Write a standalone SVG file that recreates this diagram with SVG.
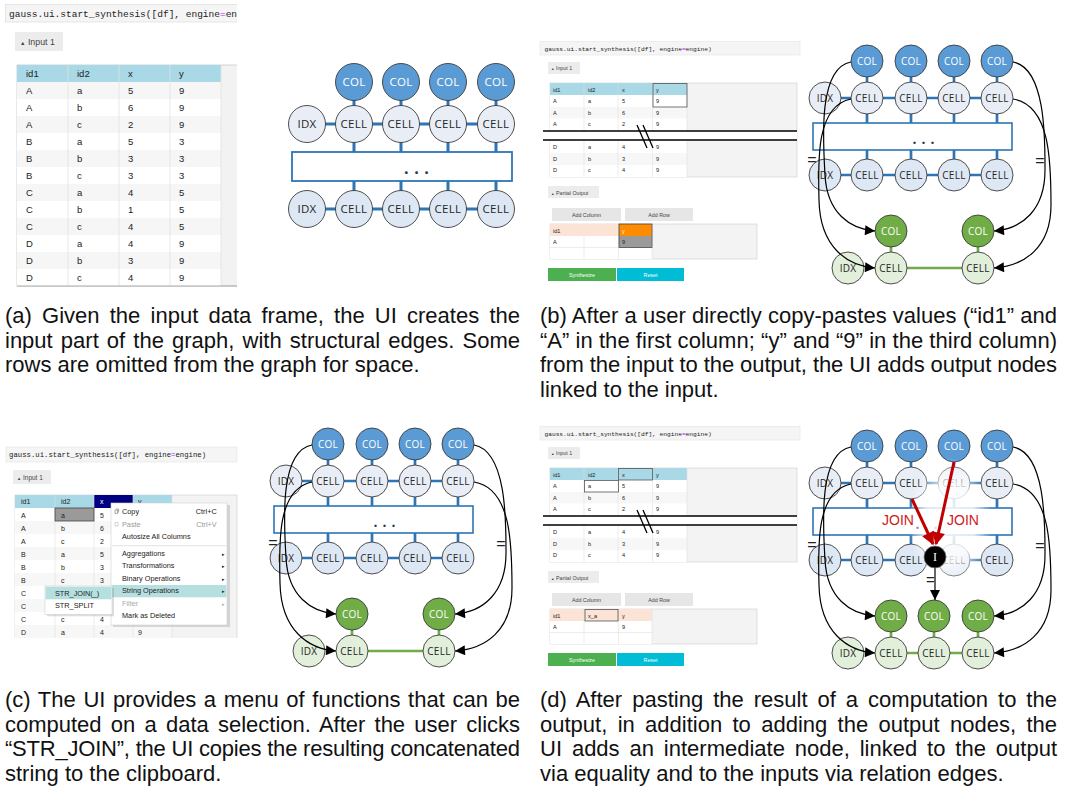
<svg xmlns="http://www.w3.org/2000/svg" width="1067" height="804" viewBox="0 0 1067 804">
<defs>
<style>
.cap{font-family:"Liberation Sans",Arial,sans-serif;font-size:22px;fill:#111}
.ui text{font-family:"Liberation Sans",Arial,sans-serif}
.ui text.code{font-family:"Liberation Mono","Courier New",monospace}
.nt{font-family:"Open Sans","Noto Sans",sans-serif;font-size:10px;fill:#262626;text-anchor:middle;letter-spacing:0.3px}
.na{font-size:11.5px}
.nw{fill:#fff}
.col{fill:#5b9bd5;stroke:#3b3b3b;stroke-width:0.9}
.cel{fill:#e9eef6;stroke:#3b3b3b;stroke-width:0.9}
.cel2{fill:#dde8f4;stroke:#3b3b3b;stroke-width:0.9}
.gcol{fill:#70ad47;stroke:#3b3b3b;stroke-width:0.9}
.gcel{fill:#e2efda;stroke:#3b3b3b;stroke-width:0.9}
.bl{stroke:#2e75b6;stroke-width:2.7;fill:none}
.gl{stroke:#70ad47;stroke-width:2.7;fill:none}
.box{fill:#fff;stroke:#2e75b6;stroke-width:1.6}
.dots{font-family:"Open Sans",sans-serif;font-weight:bold;fill:#2a3550}
.arc{fill:none;stroke:#000;stroke-width:1.2;marker-end:url(#ah)}
.eq{font-family:"Liberation Sans",Arial,sans-serif;fill:#222;text-anchor:middle}
.red{stroke:#c00000;stroke-width:3;fill:none;marker-end:url(#ahr)}
.join{font-family:"Liberation Sans",Arial,sans-serif;font-size:14px;fill:#d0201a;text-anchor:middle}
</style>
<marker id="ah" viewBox="0 0 10 10" refX="10" refY="5" markerWidth="12" markerHeight="10" markerUnits="userSpaceOnUse" orient="auto"><path d="M0,0L10,5L0,10z" fill="#000"/></marker>
<marker id="ahr" viewBox="0 0 10 10" refX="9" refY="5" markerWidth="15" markerHeight="13" markerUnits="userSpaceOnUse" orient="auto"><path d="M0,0L10,5L0,10z" fill="#c00000"/></marker>
<radialGradient id="fade"><stop offset="0" stop-color="#fff" stop-opacity="0.9"/><stop offset="0.6" stop-color="#fff" stop-opacity="0.8"/><stop offset="1" stop-color="#fff" stop-opacity="0"/></radialGradient>
<clipPath id="clipA"><rect x="0" y="0" width="237" height="300"/></clipPath>
<clipPath id="clipC"><rect x="0" y="440" width="240" height="198"/></clipPath>
</defs>
<rect width="1067" height="804" fill="#fff"/>

<!-- ================= Panel (a) UI ================= -->
<g id="a-ui" class="ui" clip-path="url(#clipA)" fill="#222">
 <rect x="5.5" y="4.5" width="240" height="17.5" fill="#f5f5f5" stroke="#e0e0e0" stroke-width="0.8"/>
 <text class="code" x="9" y="16.5" font-size="9.5">gauss.ui.start_synthesis([df], engine<tspan fill="#aa22ff">=</tspan>en</text>
 <rect x="15" y="32" width="48" height="19" fill="#ececec"/>
 <text x="20" y="44.5" font-size="8.8" fill="#444"><tspan font-size="5.5">▲</tspan> Input 1</text>
 <rect x="17" y="65" width="230" height="221" fill="#f2f2f2" stroke="#c8c8c8" stroke-width="0.8"/>
 <rect x="17" y="65" width="204" height="17" fill="#a9d8e7"/>
 <rect x="17" y="82" width="204" height="204" fill="#fff"/>
 <g fill="#f6f6f6">
  <rect x="17" y="82" width="204" height="17"/><rect x="17" y="116" width="204" height="17"/><rect x="17" y="150" width="204" height="17"/>
  <rect x="17" y="184" width="204" height="17"/><rect x="17" y="218" width="204" height="17"/><rect x="17" y="252" width="204" height="17"/>
 </g>
 <path d="M68,65V286M119,65V286M170,65V286M221,65V286" stroke="#e2e2e2" stroke-width="0.8"/>
 <path d="M17,286H247" stroke="#aaa" stroke-width="1"/>
 <g font-size="9.5">
  <text x="26" y="77">id1</text><text x="77" y="77">id2</text><text x="128" y="77">x</text><text x="179" y="77">y</text>
  <text x="26" y="93.5">A</text><text x="77" y="93.5">a</text><text x="128" y="93.5">5</text><text x="179" y="93.5">9</text>
  <text x="26" y="110.5">A</text><text x="77" y="110.5">b</text><text x="128" y="110.5">6</text><text x="179" y="110.5">9</text>
  <text x="26" y="127.5">A</text><text x="77" y="127.5">c</text><text x="128" y="127.5">2</text><text x="179" y="127.5">9</text>
  <text x="26" y="144.5">B</text><text x="77" y="144.5">a</text><text x="128" y="144.5">5</text><text x="179" y="144.5">3</text>
  <text x="26" y="161.5">B</text><text x="77" y="161.5">b</text><text x="128" y="161.5">3</text><text x="179" y="161.5">3</text>
  <text x="26" y="178.5">B</text><text x="77" y="178.5">c</text><text x="128" y="178.5">3</text><text x="179" y="178.5">3</text>
  <text x="26" y="195.5">C</text><text x="77" y="195.5">a</text><text x="128" y="195.5">4</text><text x="179" y="195.5">5</text>
  <text x="26" y="212.5">C</text><text x="77" y="212.5">b</text><text x="128" y="212.5">1</text><text x="179" y="212.5">5</text>
  <text x="26" y="229.5">C</text><text x="77" y="229.5">c</text><text x="128" y="229.5">4</text><text x="179" y="229.5">5</text>
  <text x="26" y="246.5">D</text><text x="77" y="246.5">a</text><text x="128" y="246.5">4</text><text x="179" y="246.5">9</text>
  <text x="26" y="263.5">D</text><text x="77" y="263.5">b</text><text x="128" y="263.5">3</text><text x="179" y="263.5">9</text>
  <text x="26" y="280.5">D</text><text x="77" y="280.5">c</text><text x="128" y="280.5">4</text><text x="179" y="280.5">9</text>
 </g>
</g>

<!-- ================= Panel (a) graph ================= -->
<g id="a-graph">
 <g id="a-connectors">
  <path class="bl" style="stroke-width:3" d="M307,124H496M307,209H496M354,82V124M401,82V124M448,82V124M496,82V124M354,124V152M401,124V152M448,124V152M496,124V152M354,181V209M401,181V209M448,181V209M496,181V209"/>
 </g>
 <g id="a-box"><rect class="box" style="stroke-width:1.8" x="292" y="152" width="220" height="29"/><text class="dots" x="404" y="173.5" style="font-size:16px;letter-spacing:5.6px">...</text></g>
 <g id="a-col1" transform="translate(354,82)"><circle r="18.5" class="col"/><text class="nt na nw" y="4.1">COL</text></g>
 <g id="a-col2" transform="translate(401,82)"><circle r="18.5" class="col"/><text class="nt na nw" y="4.1">COL</text></g>
 <g id="a-col3" transform="translate(448,82)"><circle r="18.5" class="col"/><text class="nt na nw" y="4.1">COL</text></g>
 <g id="a-col4" transform="translate(496,82)"><circle r="18.5" class="col"/><text class="nt na nw" y="4.1">COL</text></g>
 <g id="a-idx1" transform="translate(307,124)"><circle r="18.5" class="cel"/><text class="nt na" y="4.1">IDX</text></g>
 <g id="a-cell11" transform="translate(354,124)"><circle r="18.5" class="cel"/><text class="nt na" y="4.1">CELL</text></g>
 <g id="a-cell12" transform="translate(401,124)"><circle r="18.5" class="cel"/><text class="nt na" y="4.1">CELL</text></g>
 <g id="a-cell13" transform="translate(448,124)"><circle r="18.5" class="cel"/><text class="nt na" y="4.1">CELL</text></g>
 <g id="a-cell14" transform="translate(496,124)"><circle r="18.5" class="cel"/><text class="nt na" y="4.1">CELL</text></g>
 <g id="a-idx2" transform="translate(307,209)"><circle r="18.5" class="cel2"/><text class="nt na" y="4.1">IDX</text></g>
 <g id="a-cell21" transform="translate(354,209)"><circle r="18.5" class="cel2"/><text class="nt na" y="4.1">CELL</text></g>
 <g id="a-cell22" transform="translate(401,209)"><circle r="18.5" class="cel2"/><text class="nt na" y="4.1">CELL</text></g>
 <g id="a-cell23" transform="translate(448,209)"><circle r="18.5" class="cel2"/><text class="nt na" y="4.1">CELL</text></g>
 <g id="a-cell24" transform="translate(496,209)"><circle r="18.5" class="cel2"/><text class="nt na" y="4.1">CELL</text></g>
</g>

<!-- ================= Panel (b) UI ================= -->
<g id="b-ui" class="ui" fill="#222">
 <rect x="540" y="41.5" width="260" height="13.5" fill="#f5f5f5" stroke="#e3e3e3" stroke-width="0.6"/>
 <text class="code" x="544.5" y="50.5" font-size="6.2">gauss.ui.start_synthesis([df], engine<tspan fill="#aa22ff">=</tspan>engine)</text>
 <rect x="548" y="62" width="32" height="12" fill="#ececec"/>
 <text x="551" y="70.3" font-size="5.3" fill="#444"><tspan font-size="3.5">▲</tspan> Input 1</text>
 <rect x="550" y="83" width="247" height="94" fill="#f3f3f3" stroke="#cdcdcd" stroke-width="0.6"/>
 <rect x="550" y="83" width="137" height="12" fill="#a9d8e7"/>
 <rect x="550" y="95" width="137" height="82" fill="#fff"/>
 <rect x="550" y="107" width="137" height="11.5" fill="#f7f7f7"/><rect x="550" y="153" width="137" height="12" fill="#f7f7f7"/>
 <path d="M584,83V177M618,83V177M652.5,83V177M687,83V177" stroke="#e0e0e0" stroke-width="0.6"/>
 <g font-size="5.6">
  <text x="553" y="91.5">id1</text><text x="588" y="91.5">id2</text><text x="622" y="91.5">x</text><text x="656" y="91.5">y</text>
  <text x="553" y="103.2">A</text><text x="588" y="103.2">a</text><text x="622" y="103.2">5</text><text x="656" y="103.2">9</text>
  <text x="553" y="114.8">A</text><text x="588" y="114.8">b</text><text x="622" y="114.8">6</text><text x="656" y="114.8">9</text>
  <text x="553" y="126.4">A</text><text x="588" y="126.4">c</text><text x="622" y="126.4">2</text><text x="656" y="126.4">9</text>
  <text x="553" y="149.2">D</text><text x="588" y="149.2">a</text><text x="622" y="149.2">4</text><text x="656" y="149.2">9</text>
  <text x="553" y="160.8">D</text><text x="588" y="160.8">b</text><text x="622" y="160.8">3</text><text x="656" y="160.8">9</text>
  <text x="553" y="172.4">D</text><text x="588" y="172.4">c</text><text x="622" y="172.4">4</text><text x="656" y="172.4">9</text>
 </g>
 <rect x="653" y="83.5" width="34" height="23.5" fill="none" stroke="#555" stroke-width="0.8"/>
 <rect x="543" y="131" width="254" height="9" fill="#fff"/>
 <path d="M543,131H797M543,140H797M637,125L647,148M643,125L653,148" stroke="#000" stroke-width="1.3" fill="none"/>
 <rect x="548" y="186" width="51" height="12" fill="#ececec"/>
 <text x="551" y="194.5" font-size="5.3" fill="#444"><tspan font-size="3.5">▲</tspan> Partial Output</text>
 <rect x="552" y="208" width="69" height="13" fill="#e6e6e6"/><rect x="625" y="208" width="68" height="13" fill="#e6e6e6"/>
 <text x="586.5" y="216.5" font-size="5.3" text-anchor="middle" fill="#444">Add Column</text>
 <text x="659" y="216.5" font-size="5.3" text-anchor="middle" fill="#444">Add Row</text>
 <rect x="550" y="224" width="207" height="35" fill="#f3f3f3" stroke="#cdcdcd" stroke-width="0.6"/>
 <rect x="550" y="224" width="69" height="12" fill="#fbe3d5"/>
 <rect x="619" y="224" width="33" height="12" fill="#ff8c00"/>
 <rect x="550" y="236" width="69" height="23" fill="#fff"/>
 <rect x="619" y="236" width="33" height="11.5" fill="#9a9a9a"/>
 <rect x="619" y="247.5" width="33" height="11.5" fill="#fff"/>
 <path d="M584,236V259M618.5,224V259M652,224V259M550,247.5H652" stroke="#e0e0e0" stroke-width="0.6"/>
 <rect x="619" y="224" width="33" height="23.5" fill="none" stroke="#444" stroke-width="0.8"/>
 <text x="553" y="232.5" font-size="5.6">id1</text><text x="622" y="232.5" font-size="5.6" fill="#fff">y</text>
 <text x="553" y="244" font-size="5.6">A</text><text x="622" y="244" font-size="5.6">9</text>
 <rect x="548" y="268" width="68" height="13" fill="#4caf50"/><rect x="617" y="268" width="67" height="13" fill="#00bcd4"/>
 <text x="582" y="276.5" font-size="5.3" text-anchor="middle" fill="#fff">Synthesize</text>
 <text x="650.5" y="276.5" font-size="5.3" text-anchor="middle" fill="#fff">Reset</text>
</g>

<!-- ================= Panel (b) graph ================= -->
<g id="b-graph">
 <g id="b-connectors">
  <path class="bl" d="M825,98H997M825,175H997M867,61V98M911,61V98M954,61V98M997,61V98M867,98V123M911,98V123M954,98V123M997,98V123M867,150V175M911,150V175M954,150V175M997,150V175"/>
  <path class="gl" d="M891,231V268M978,231V268M891,268H978"/>
 </g>
 <g id="b-box"><rect class="box" x="813" y="123" width="199" height="27"/><text class="dots" x="912.5" y="143.5" style="font-size:14px;letter-spacing:5px">...</text></g>
 <g id="b-col1" transform="translate(867,61)"><circle r="16" class="col"/><text class="nt nw" y="3.6">COL</text></g>
 <g id="b-col2" transform="translate(911,61)"><circle r="16" class="col"/><text class="nt nw" y="3.6">COL</text></g>
 <g id="b-col3" transform="translate(954,61)"><circle r="16" class="col"/><text class="nt nw" y="3.6">COL</text></g>
 <g id="b-col4" transform="translate(997,61)"><circle r="16" class="col"/><text class="nt nw" y="3.6">COL</text></g>
 <g id="b-idx1" transform="translate(825,98)"><circle r="16" class="cel"/><text class="nt" y="3.6">IDX</text></g>
 <g id="b-cell11" transform="translate(867,98)"><circle r="16" class="cel"/><text class="nt" y="3.6">CELL</text></g>
 <g id="b-cell12" transform="translate(911,98)"><circle r="16" class="cel"/><text class="nt" y="3.6">CELL</text></g>
 <g id="b-cell13" transform="translate(954,98)"><circle r="16" class="cel"/><text class="nt" y="3.6">CELL</text></g>
 <g id="b-cell14" transform="translate(997,98)"><circle r="16" class="cel"/><text class="nt" y="3.6">CELL</text></g>
 <g id="b-idx2" transform="translate(825,175)"><circle r="16" class="cel2"/><text class="nt" y="3.6">IDX</text></g>
 <g id="b-cell21" transform="translate(867,175)"><circle r="16" class="cel2"/><text class="nt" y="3.6">CELL</text></g>
 <g id="b-cell22" transform="translate(911,175)"><circle r="16" class="cel2"/><text class="nt" y="3.6">CELL</text></g>
 <g id="b-cell23" transform="translate(954,175)"><circle r="16" class="cel2"/><text class="nt" y="3.6">CELL</text></g>
 <g id="b-cell24" transform="translate(997,175)"><circle r="16" class="cel2"/><text class="nt" y="3.6">CELL</text></g>
 <g id="b-ocol1" transform="translate(891,231)"><circle r="16" class="gcol"/><text class="nt nw" y="3.6">COL</text></g>
 <g id="b-ocol2" transform="translate(978,231)"><circle r="16" class="gcol"/><text class="nt nw" y="3.6">COL</text></g>
 <g id="b-oidx" transform="translate(848,268)"><circle r="16" class="gcel"/><text class="nt" y="3.6">IDX</text></g>
 <g id="b-ocell1" transform="translate(891,268)"><circle r="16" class="gcel"/><text class="nt" y="3.6">CELL</text></g>
 <g id="b-ocell2" transform="translate(978,268)"><circle r="16" class="gcel"/><text class="nt" y="3.6">CELL</text></g>
 <g id="b-arcs">
  <path class="arc" d="M851,62C818,68 823,140 825,175C827,213 850,229 875,231"/>
  <path class="arc" d="M851,99C816,106 818,160 819,200C820,248 848,266 875,268"/>
  <path class="arc" d="M1013,62C1046,68 1045,140 1045,170C1045,210 1022,229 994,231"/>
  <path class="arc" d="M1013,99C1050,105 1051,160 1051,205C1051,248 1024,266 994,268"/>
  <text class="eq" x="812" y="164.5" font-size="16">=</text>
  <text class="eq" x="1040" y="165.5" font-size="16">=</text>
 </g>
</g>

<!-- ================= Panel (c) UI ================= -->
<g id="c-ui" class="ui" fill="#222">
 <rect x="6" y="447" width="231" height="15" fill="#f5f5f5" stroke="#e3e3e3" stroke-width="0.6"/>
 <text class="code" x="9" y="457.3" font-size="7.3">gauss.ui.start_synthesis([df], engine<tspan fill="#aa22ff">=</tspan>engine)</text>
 <rect x="13" y="470" width="38" height="14" fill="#ececec"/>
 <text x="17" y="479.8" font-size="6.5" fill="#444"><tspan font-size="4.2">▲</tspan> Input 1</text>
 <g clip-path="url(#clipC)">
  <rect x="15" y="495" width="222" height="150" fill="#f3f3f3" stroke="#cdcdcd" stroke-width="0.6"/>
  <rect x="15" y="495" width="157" height="13" fill="#a9d8e7"/>
  <rect x="94" y="495" width="39" height="13" fill="#000080"/>
  <rect x="15" y="508" width="157" height="137" fill="#fff"/>
  <g fill="#f7f7f7"><rect x="15" y="521" width="157" height="13"/><rect x="15" y="547" width="157" height="13"/><rect x="15" y="573" width="157" height="13"/><rect x="15" y="599" width="157" height="13"/><rect x="15" y="625" width="157" height="13"/></g>
  <path d="M55,495V645M94,495V645M133,495V645M172,495V645" stroke="#e0e0e0" stroke-width="0.6"/>
  <rect x="55" y="508" width="39" height="13" fill="#9a9a9a" stroke="#444" stroke-width="0.8"/>
  <g font-size="7">
   <text x="21" y="504.3">id1</text><text x="61" y="504.3">id2</text><text x="100" y="504.3" fill="#fff">x</text><text x="138" y="504.3">y</text>
   <text x="21" y="517.5">A</text><text x="61" y="517.5">a</text><text x="100" y="517.5">5</text>
   <text x="21" y="530.5">A</text><text x="61" y="530.5">b</text><text x="100" y="530.5">6</text>
   <text x="21" y="543.5">A</text><text x="61" y="543.5">c</text><text x="100" y="543.5">2</text>
   <text x="21" y="556.5">B</text><text x="61" y="556.5">a</text><text x="100" y="556.5">5</text>
   <text x="21" y="569.5">B</text><text x="61" y="569.5">b</text><text x="100" y="569.5">3</text>
   <text x="21" y="582.5">B</text><text x="61" y="582.5">c</text><text x="100" y="582.5">3</text>
   <text x="21" y="595.5">C</text>
   <text x="21" y="608.5">C</text>
   <text x="21" y="621.5">C</text><text x="61" y="621.5">c</text><text x="100" y="621.5">4</text>
   <text x="21" y="634.5">D</text><text x="61" y="634.5">a</text><text x="100" y="634.5">4</text><text x="138" y="634.5">9</text>
  </g>
 </g>
 <g id="c-menu">
  <rect x="113" y="505" width="117" height="122" fill="#000" opacity="0.13"/>
  <rect x="111" y="503" width="116" height="122" fill="#fff" stroke="#cfcfcf" stroke-width="0.6"/>
  <rect x="111.5" y="585" width="115" height="12.3" fill="#b6e0e0"/>
  <path d="M112,545.7H226" stroke="#d0d0d0" stroke-width="0.6"/>
  <path d="M115,510h2.6v3.4h-2.6zM116,509h2.6v3.4" fill="none" stroke="#555" stroke-width="0.5"/>
  <path d="M115,522.5h3v3.6h-3z" fill="none" stroke="#aaa" stroke-width="0.5"/>
  <g font-size="7.3">
   <text x="122" y="514">Copy</text><text x="216.7" y="514" text-anchor="end">Ctrl+C</text>
   <text x="122" y="526.7" fill="#999">Paste</text><text x="216.7" y="526.7" text-anchor="end" fill="#999">Ctrl+V</text>
   <text x="122" y="539.3">Autosize All Columns</text>
   <text x="122" y="556">Aggregations</text><text x="222" y="556" font-size="4.5">▸</text>
   <text x="122" y="568.3">Transformations</text><text x="222" y="568.3" font-size="4.5">▸</text>
   <text x="122" y="580.7">Binary Operations</text><text x="222" y="580.7" font-size="4.5">▸</text>
   <text x="122" y="593.3">String Operations</text><text x="222" y="593.3" font-size="4.5">▸</text>
   <text x="122" y="605.7" fill="#aaa">Filter</text><text x="222" y="605.7" font-size="4.5" fill="#aaa">▸</text>
   <text x="122" y="618.3">Mark as Deleted</text>
  </g>
  <rect x="47" y="588" width="67" height="28.3" fill="#000" opacity="0.13"/>
  <rect x="45" y="586" width="67" height="28.3" fill="#fff" stroke="#cfcfcf" stroke-width="0.6"/>
  <rect x="45.5" y="586.7" width="66" height="12.6" fill="#b6e0e0"/>
  <text x="55" y="595.7" font-size="7.3">STR_JOIN(_)</text>
  <text x="55" y="608.3" font-size="7.3">STR_SPLIT</text>
 </g>
</g>

<!-- ================= Panel (c) graph ================= -->
<g id="c-graph" transform="translate(-539,383)">
 <g id="c-connectors">
  <path class="bl" d="M825,98H997M825,175H997M867,61V98M911,61V98M954,61V98M997,61V98M867,98V123M911,98V123M954,98V123M997,98V123M867,150V175M911,150V175M954,150V175M997,150V175"/>
  <path class="gl" d="M891,231V268M978,231V268M891,268H978"/>
 </g>
 <g id="c-box"><rect class="box" x="813" y="123" width="199" height="27"/><text class="dots" x="912.5" y="143.5" style="font-size:14px;letter-spacing:5px">...</text></g>
 <g id="c-col1" transform="translate(867,61)"><circle r="16" class="col"/><text class="nt nw" y="3.6">COL</text></g>
 <g id="c-col2" transform="translate(911,61)"><circle r="16" class="col"/><text class="nt nw" y="3.6">COL</text></g>
 <g id="c-col3" transform="translate(954,61)"><circle r="16" class="col"/><text class="nt nw" y="3.6">COL</text></g>
 <g id="c-col4" transform="translate(997,61)"><circle r="16" class="col"/><text class="nt nw" y="3.6">COL</text></g>
 <g id="c-idx1" transform="translate(825,98)"><circle r="16" class="cel"/><text class="nt" y="3.6">IDX</text></g>
 <g id="c-cell11" transform="translate(867,98)"><circle r="16" class="cel"/><text class="nt" y="3.6">CELL</text></g>
 <g id="c-cell12" transform="translate(911,98)"><circle r="16" class="cel"/><text class="nt" y="3.6">CELL</text></g>
 <g id="c-cell13" transform="translate(954,98)"><circle r="16" class="cel"/><text class="nt" y="3.6">CELL</text></g>
 <g id="c-cell14" transform="translate(997,98)"><circle r="16" class="cel"/><text class="nt" y="3.6">CELL</text></g>
 <g id="c-idx2" transform="translate(825,175)"><circle r="16" class="cel2"/><text class="nt" y="3.6">IDX</text></g>
 <g id="c-cell21" transform="translate(867,175)"><circle r="16" class="cel2"/><text class="nt" y="3.6">CELL</text></g>
 <g id="c-cell22" transform="translate(911,175)"><circle r="16" class="cel2"/><text class="nt" y="3.6">CELL</text></g>
 <g id="c-cell23" transform="translate(954,175)"><circle r="16" class="cel2"/><text class="nt" y="3.6">CELL</text></g>
 <g id="c-cell24" transform="translate(997,175)"><circle r="16" class="cel2"/><text class="nt" y="3.6">CELL</text></g>
 <g id="c-ocol1" transform="translate(891,231)"><circle r="16" class="gcol"/><text class="nt nw" y="3.6">COL</text></g>
 <g id="c-ocol2" transform="translate(978,231)"><circle r="16" class="gcol"/><text class="nt nw" y="3.6">COL</text></g>
 <g id="c-oidx" transform="translate(848,268)"><circle r="16" class="gcel"/><text class="nt" y="3.6">IDX</text></g>
 <g id="c-ocell1" transform="translate(891,268)"><circle r="16" class="gcel"/><text class="nt" y="3.6">CELL</text></g>
 <g id="c-ocell2" transform="translate(978,268)"><circle r="16" class="gcel"/><text class="nt" y="3.6">CELL</text></g>
 <g id="c-arcs">
  <path class="arc" d="M851,62C818,68 823,140 825,175C827,213 850,229 875,231"/>
  <path class="arc" d="M851,99C816,106 818,160 819,200C820,248 848,266 875,268"/>
  <path class="arc" d="M1013,62C1046,68 1045,140 1045,170C1045,210 1022,229 994,231"/>
  <path class="arc" d="M1013,99C1050,105 1051,160 1051,205C1051,248 1024,266 994,268"/>
  <text class="eq" x="812" y="164.5" font-size="16">=</text>
  <text class="eq" x="1040" y="165.5" font-size="16">=</text>
 </g>
</g>

<!-- ================= Panel (d) UI ================= -->
<g id="d-ui" class="ui" transform="translate(0,385)" fill="#222">
 <rect x="540" y="41.5" width="260" height="13.5" fill="#f5f5f5" stroke="#e3e3e3" stroke-width="0.6"/>
 <text class="code" x="544.5" y="50.5" font-size="6.2">gauss.ui.start_synthesis([df], engine<tspan fill="#aa22ff">=</tspan>engine)</text>
 <rect x="548" y="62" width="32" height="12" fill="#ececec"/>
 <text x="551" y="70.3" font-size="5.3" fill="#444"><tspan font-size="3.5">▲</tspan> Input 1</text>
 <rect x="550" y="83" width="247" height="94" fill="#f3f3f3" stroke="#cdcdcd" stroke-width="0.6"/>
 <rect x="550" y="83" width="137" height="12" fill="#a9d8e7"/>
 <rect x="550" y="95" width="137" height="82" fill="#fff"/>
 <rect x="550" y="107" width="137" height="11.5" fill="#f7f7f7"/><rect x="550" y="153" width="137" height="12" fill="#f7f7f7"/>
 <path d="M584,83V177M618,83V177M652.5,83V177M687,83V177" stroke="#e0e0e0" stroke-width="0.6"/>
 <g font-size="5.6">
  <text x="553" y="91.5">id1</text><text x="588" y="91.5">id2</text><text x="622" y="91.5">x</text><text x="656" y="91.5">y</text>
  <text x="553" y="103.2">A</text><text x="588" y="103.2">a</text><text x="622" y="103.2">5</text><text x="656" y="103.2">9</text>
  <text x="553" y="114.8">A</text><text x="588" y="114.8">b</text><text x="622" y="114.8">6</text><text x="656" y="114.8">9</text>
  <text x="553" y="126.4">A</text><text x="588" y="126.4">c</text><text x="622" y="126.4">2</text><text x="656" y="126.4">9</text>
  <text x="553" y="149.2">D</text><text x="588" y="149.2">a</text><text x="622" y="149.2">4</text><text x="656" y="149.2">9</text>
  <text x="553" y="160.8">D</text><text x="588" y="160.8">b</text><text x="622" y="160.8">3</text><text x="656" y="160.8">9</text>
  <text x="553" y="172.4">D</text><text x="588" y="172.4">c</text><text x="622" y="172.4">4</text><text x="656" y="172.4">9</text>
 </g>
 <rect x="618.5" y="83.5" width="34" height="11.5" fill="none" stroke="#555" stroke-width="0.8"/>
 <rect x="584.5" y="95.5" width="34" height="11.5" fill="none" stroke="#555" stroke-width="0.8"/>
 <rect x="543" y="131" width="254" height="9" fill="#fff"/>
 <path d="M543,131H797M543,140H797M637,125L647,148M643,125L653,148" stroke="#000" stroke-width="1.3" fill="none"/>
 <rect x="548" y="186" width="51" height="12" fill="#ececec"/>
 <text x="551" y="194.5" font-size="5.3" fill="#444"><tspan font-size="3.5">▲</tspan> Partial Output</text>
 <rect x="552" y="208" width="69" height="13" fill="#e6e6e6"/><rect x="625" y="208" width="68" height="13" fill="#e6e6e6"/>
 <text x="586.5" y="216.5" font-size="5.3" text-anchor="middle" fill="#444">Add Column</text>
 <text x="659" y="216.5" font-size="5.3" text-anchor="middle" fill="#444">Add Row</text>
 <rect x="550" y="224" width="207" height="35" fill="#f3f3f3" stroke="#cdcdcd" stroke-width="0.6"/>
 <rect x="550" y="224" width="102" height="12" fill="#fbe3d5"/>
 <rect x="550" y="236" width="102" height="23" fill="#fff"/>
 <path d="M584,224V259M618.5,224V259M652,224V259M550,247.5H652" stroke="#e0e0e0" stroke-width="0.6"/>
 <rect x="585" y="224.5" width="33" height="11.5" fill="none" stroke="#555" stroke-width="0.8"/>
 <text x="553" y="232.5" font-size="5.6">id1</text><text x="588" y="232.5" font-size="5.6">x_a</text><text x="622" y="232.5" font-size="5.6">y</text>
 <text x="553" y="244" font-size="5.6">A</text><text x="622" y="244" font-size="5.6">9</text>
 <rect x="548" y="268" width="68" height="13" fill="#4caf50"/><rect x="617" y="268" width="67" height="13" fill="#00bcd4"/>
 <text x="582" y="276.5" font-size="5.3" text-anchor="middle" fill="#fff">Synthesize</text>
 <text x="650.5" y="276.5" font-size="5.3" text-anchor="middle" fill="#fff">Reset</text>
</g>

<!-- ================= Panel (d) graph ================= -->
<g id="d-graph" transform="translate(0,385)">
 <g id="d-connectors">
  <path class="bl" d="M825,98H997M825,175H997M867,61V98M911,61V98M954,61V98M997,61V98M867,98V123M911,98V123M954,98V123M997,98V123M867,150V175M911,150V175M954,150V175M997,150V175"/>
  <path class="gl" d="M891,231V268M934,231V268M978,231V268M891,268H978"/>
 </g>
 <g id="d-box"><rect class="box" x="813" y="123" width="199" height="27"/><text class="dots" x="915.5" y="143.5" style="font-size:14px;letter-spacing:5px">...</text></g>
 <g id="d-col1" transform="translate(867,61)"><circle r="16" class="col"/><text class="nt nw" y="3.6">COL</text></g>
 <g id="d-col2" transform="translate(911,61)"><circle r="16" class="col"/><text class="nt nw" y="3.6">COL</text></g>
 <g id="d-col3" transform="translate(954,61)"><circle r="16" class="col"/><text class="nt nw" y="3.6">COL</text></g>
 <g id="d-col4" transform="translate(997,61)"><circle r="16" class="col"/><text class="nt nw" y="3.6">COL</text></g>
 <g id="d-idx1" transform="translate(825,98)"><circle r="16" class="cel"/><text class="nt" y="3.6">IDX</text></g>
 <g id="d-cell11" transform="translate(867,98)"><circle r="16" class="cel"/><text class="nt" y="3.6">CELL</text></g>
 <g id="d-cell12" transform="translate(911,98)"><circle r="16" class="cel"/><text class="nt" y="3.6">CELL</text></g>
 <g id="d-cell13" transform="translate(954,98)"><circle r="16" class="cel"/><text class="nt" y="3.6">CELL</text></g>
 <g id="d-cell14" transform="translate(997,98)"><circle r="16" class="cel"/><text class="nt" y="3.6">CELL</text></g>
 <g id="d-idx2" transform="translate(825,175)"><circle r="16" class="cel2"/><text class="nt" y="3.6">IDX</text></g>
 <g id="d-cell21" transform="translate(867,175)"><circle r="16" class="cel2"/><text class="nt" y="3.6">CELL</text></g>
 <g id="d-cell22" transform="translate(911,175)"><circle r="16" class="cel2"/><text class="nt" y="3.6">CELL</text></g>
 <g id="d-cell23" transform="translate(954,175)"><circle r="16" class="cel2"/><text class="nt" y="3.6">CELL</text></g>
 <g id="d-cell24" transform="translate(997,175)"><circle r="16" class="cel2"/><text class="nt" y="3.6">CELL</text></g>
 <ellipse id="d-fade" cx="950" cy="137" rx="42" ry="64" fill="url(#fade)"/>
 <g id="d-ocol1" transform="translate(891,231)"><circle r="16" class="gcol"/><text class="nt nw" y="3.6">COL</text></g>
 <g id="d-ocol2" transform="translate(934,231)"><circle r="16" class="gcol"/><text class="nt nw" y="3.6">COL</text></g>
 <g id="d-ocol3" transform="translate(978,231)"><circle r="16" class="gcol"/><text class="nt nw" y="3.6">COL</text></g>
 <g id="d-oidx" transform="translate(848,268)"><circle r="16" class="gcel"/><text class="nt" y="3.6">IDX</text></g>
 <g id="d-ocell1" transform="translate(891,268)"><circle r="16" class="gcel"/><text class="nt" y="3.6">CELL</text></g>
 <g id="d-ocell2" transform="translate(934,268)"><circle r="16" class="gcel"/><text class="nt" y="3.6">CELL</text></g>
 <g id="d-ocell3" transform="translate(978,268)"><circle r="16" class="gcel"/><text class="nt" y="3.6">CELL</text></g>
 <g id="d-arcs">
  <path class="arc" d="M851,62C818,68 823,140 825,175C827,213 850,229 875,231"/>
  <path class="arc" d="M851,99C816,106 818,160 819,200C820,248 848,266 875,268"/>
  <path class="arc" d="M1013,62C1046,68 1045,140 1045,170C1045,210 1022,229 994,231"/>
  <path class="arc" d="M1013,99C1050,105 1051,160 1051,205C1051,248 1024,266 994,268"/>
  <text class="eq" x="812" y="164.5" font-size="16">=</text>
  <text class="eq" x="1040" y="165.5" font-size="16">=</text>
 </g>
 <g id="d-join">
  <text class="join" x="898" y="140">JOIN</text>
  <text class="join" x="963" y="140">JOIN</text>
  <path class="red" d="M912,114L933,159"/>
  <path class="red" d="M954,77L936,159"/>
  <path class="arc" d="M935,183V215"/>
  <text class="eq" x="930.5" y="199.5" font-size="15">=</text>
 </g>
 <g id="d-inter" transform="translate(935,172)"><circle r="11" fill="#000" stroke="#777" stroke-width="0.8"/><text y="4.3" text-anchor="middle" font-family="Liberation Serif,serif" font-size="12" fill="#fff">I</text></g>
</g>

<!-- ================= Captions ================= -->
<g id="captions">
 <text class="cap" x="5" y="323" word-spacing="4.1" textLength="515" lengthAdjust="spacing">(a) Given the input data frame, the UI creates the</text>
 <text class="cap" x="5" y="347.5" word-spacing="2" textLength="515" lengthAdjust="spacing">input part of the graph, with structural edges. Some</text>
 <text class="cap" x="5" y="372">rows are omitted from the graph for space.</text>
 <text class="cap" x="540" y="323" textLength="517" lengthAdjust="spacing">(b) After a user directly copy-pastes values (“id1” and</text>
 <text class="cap" x="540" y="347.5" textLength="517" lengthAdjust="spacing">“A” in the first column; “y” and “9” in the third column)</text>
 <text class="cap" x="540" y="372" textLength="517" lengthAdjust="spacing">from the input to the output, the UI adds output nodes</text>
 <text class="cap" x="540" y="396.5">linked to the input.</text>
 <text class="cap" x="5" y="707" word-spacing="1.5" textLength="515" lengthAdjust="spacing">(c) The UI provides a menu of functions that can be</text>
 <text class="cap" x="5" y="731.5" word-spacing="3.2" textLength="515" lengthAdjust="spacing">computed on a data selection. After the user clicks</text>
 <text class="cap" x="5" y="756" textLength="515" lengthAdjust="spacing">“STR_JOIN”, the UI copies the resulting concatenated</text>
 <text class="cap" x="5" y="780.5">string to the clipboard.</text>
 <text class="cap" x="540" y="707" word-spacing="3.8" textLength="517" lengthAdjust="spacing">(d) After pasting the result of a computation to the</text>
 <text class="cap" x="540" y="731.5" word-spacing="4.2" textLength="517" lengthAdjust="spacing">output, in addition to adding the output nodes, the</text>
 <text class="cap" x="540" y="756" word-spacing="3.8" textLength="517" lengthAdjust="spacing">UI adds an intermediate node, linked to the output</text>
 <text class="cap" x="540" y="780.5">via equality and to the inputs via relation edges.</text>
</g>
</svg>
